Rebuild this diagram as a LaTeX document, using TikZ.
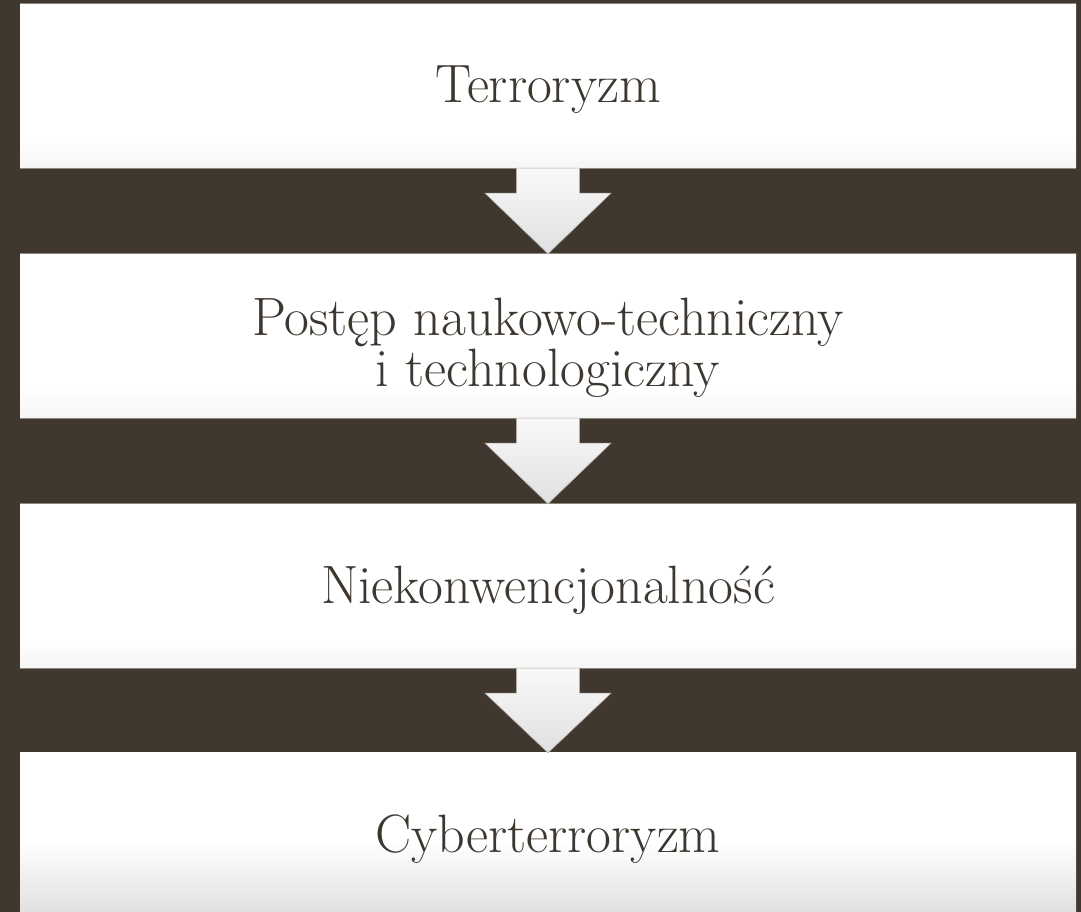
\documentclass[tikz,border=0pt]{standalone}
\usetikzlibrary{calc}
\definecolor{bgbrown}{HTML}{40382F}
\definecolor{inkbrown}{HTML}{3D3730}
\definecolor{edgegray}{HTML}{8E897F}
\definecolor{boxlow}{HTML}{F5F5F5}
\definecolor{lastlow}{HTML}{DEDEDE}
\definecolor{arrowtop}{HTML}{F9F9F9}
\definecolor{arrowlow}{HTML}{E0E0E0}
% white panel that fades to light grey near its lower edge
\pgfdeclareverticalshading{panelshade}{100bp}{color(0bp)=(boxlow); color(25bp)=(boxlow); color(34bp)=(white); color(100bp)=(white)}
\pgfdeclareverticalshading{lastshade}{100bp}{color(0bp)=(lastlow); color(25bp)=(lastlow); color(48bp)=(white); color(100bp)=(white)}
\tikzset{
  panel/.style={rectangle, minimum width=1056pt, minimum height=164pt, inner sep=0pt,
    shading=panelshade},
  lastpanel/.style={panel, shading=lastshade},
  label text/.style={text=inkbrown, align=center, inner sep=0pt,
    font=\fontsize{54}{60}\selectfont},
  rim/.style={draw=edgegray, line width=1.1pt},
  flowarrow/.style={top color=arrowtop, bottom color=arrowlow, draw=edgegray!70, line width=0.6pt},
}
\newcommand{\downarrowblock}[2]{%
  \path let \p1=(#1.south), \p2=(#2.north) in
    coordinate (sa) at (\x1-31.5,\y1) coordinate (sb) at (\x1+31.5,\y1)
    coordinate (sc) at (\x1+31.5,\y1-25) coordinate (sd) at (\x1+63,\y1-25)
    coordinate (tip) at (\x1,\y2)
    coordinate (se) at (\x1-63,\y1-25) coordinate (sf) at (\x1-31.5,\y1-25);
  \draw[flowarrow] (sa) -- (sb) -- (sc) -- (sd) -- (tip) -- (se) -- (sf) -- cycle;
}
\begin{document}
\begin{tikzpicture}[x=1pt,y=1pt]
  \useasboundingbox (0,0) rectangle (1081,912);
  \clip (0,0) rectangle (1081,912);
  \fill[bgbrown] (0,0) rectangle (1081,912);

  \node[panel]     (b1) at (548,912-86)  {};
  \node[panel]     (b2) at (548,912-336) {};
  \node[panel]     (b3) at (548,912-586) {};
  \node[lastpanel] (b4) at (548,912-835) {};

  \node[label text] (t1) at ($(b1.center)+(0,-4)$) {Terroryzm};
  \node[label text] (t2) at ($(b2.center)+(0,-12)$) {Postęp naukowo-techniczny\\[-9pt]i technologiczny};
  \node[label text] (t3) at ($(b3.center)+(0,-4)$) {Niekonwencjonalność};
  \node[label text] (t4) at ($(b4.center)+(0,-4)$) {Cyberterroryzm};

  \foreach \b in {b1,b2,b3}{
    \draw[rim] (\b.north west) -- (\b.north east);
    \draw[rim] (\b.south west) -- (\b.south east);
  }

  \downarrowblock{b1}{b2}
  \downarrowblock{b2}{b3}
  \downarrowblock{b3}{b4}
\end{tikzpicture}
\end{document}
